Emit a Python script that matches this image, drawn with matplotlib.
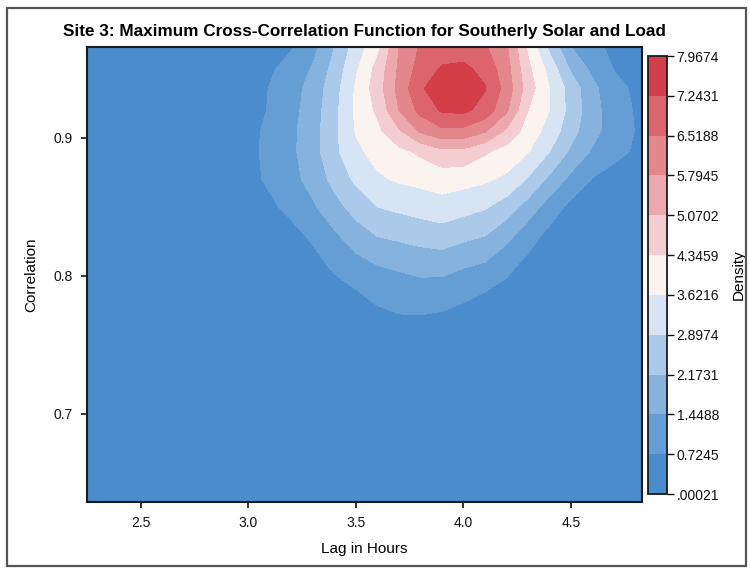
#!/usr/bin/env python3

import matplotlib
matplotlib.use('Agg')
import matplotlib.pyplot as plt
import matplotlib.patches as mpatches
import numpy as np

# density grid (rows = correlation, cols = lag)
lags = [2.25, 2.6, 2.9, 3.05, 3.2, 3.3, 3.4, 3.5, 3.6, 3.7, 3.8,
        3.9, 4.0, 4.1, 4.2, 4.3, 4.4, 4.5, 4.6, 4.7, 4.83]
corrs = [0.636, 0.70, 0.74, 0.77, 0.79, 0.81, 0.83, 0.85, 0.87,
         0.89, 0.905, 0.92, 0.936, 0.95, 0.966]

row_0636 = [0.01, 0.01, 0.02, 0.02, 0.03, 0.03, 0.04, 0.04, 0.05, 0.05, 0.05,
            0.05, 0.04, 0.04, 0.03, 0.03, 0.02, 0.02, 0.01, 0.01, 0.01]
row_0700 = [0.02, 0.04, 0.06, 0.07, 0.09, 0.11, 0.13, 0.15, 0.17, 0.18, 0.18,
            0.17, 0.15, 0.13, 0.11, 0.09, 0.07, 0.05, 0.04, 0.03, 0.02]
row_0740 = [0.04, 0.07, 0.11, 0.14, 0.18, 0.22, 0.27, 0.32, 0.37, 0.40, 0.40,
            0.37, 0.33, 0.28, 0.23, 0.18, 0.14, 0.11, 0.08, 0.06, 0.05]
row_0770 = [0.05, 0.09, 0.16, 0.21, 0.28, 0.34, 0.42, 0.52, 0.61, 0.68, 0.68,
            0.62, 0.55, 0.46, 0.37, 0.29, 0.22, 0.17, 0.13, 0.10, 0.07]
row_0790 = [0.06, 0.11, 0.20, 0.27, 0.36, 0.45, 0.57, 0.72, 0.88, 1.05, 1.17,
            1.12, 0.88, 0.75, 0.55, 0.40, 0.30, 0.22, 0.16, 0.12, 0.08]
row_0810 = [0.07, 0.13, 0.25, 0.33, 0.45, 0.58, 0.84, 1.25, 1.52, 1.65, 1.78,
            1.83, 1.61, 1.45, 0.96, 0.58, 0.40, 0.29, 0.21, 0.15, 0.10]
row_0830 = [0.08, 0.15, 0.30, 0.40, 0.57, 0.82, 1.35, 1.86, 2.22, 2.35, 2.48,
            2.58, 2.38, 2.21, 1.73, 1.04, 0.55, 0.38, 0.27, 0.19, 0.13]
row_0850 = [0.09, 0.18, 0.37, 0.50, 0.87, 1.35, 1.93, 2.44, 2.90, 3.05, 3.19,
            3.34, 3.16, 2.97, 2.54, 1.88, 1.09, 0.55, 0.38, 0.27, 0.19]
row_0870 = [0.10, 0.20, 0.42, 0.68, 1.22, 1.71, 2.39, 3.04, 3.52, 3.71, 3.82,
            3.95, 3.87, 3.73, 3.49, 2.82, 2.01, 1.25, 0.68, 0.45, 0.30]
row_0890 = [0.10, 0.21, 0.44, 0.72, 1.30, 1.88, 2.72, 3.48, 3.85, 4.15, 4.47,
            4.87, 4.86, 4.43, 4.04, 3.66, 2.90, 2.03, 1.36, 0.93, 0.55]
row_0905 = [0.10, 0.20, 0.42, 0.70, 1.29, 1.88, 2.72, 3.67, 4.16, 4.97, 5.89,
            6.36, 6.30, 5.87, 4.93, 4.01, 3.35, 2.44, 1.67, 1.11, 0.58]
row_0920 = [0.09, 0.19, 0.40, 0.58, 1.21, 1.81, 2.69, 3.75, 4.47, 5.79, 6.74,
            7.33, 7.41, 6.97, 5.91, 4.35, 3.62, 2.63, 1.72, 1.06, 0.55]
row_0936 = [0.09, 0.18, 0.38, 0.56, 1.14, 1.74, 2.59, 3.71, 4.71, 6.03, 7.14,
            7.71, 7.74, 7.29, 6.23, 4.71, 3.62, 2.59, 1.63, 0.96, 0.50]
row_0950 = [0.08, 0.16, 0.33, 0.50, 0.94, 1.53, 2.41, 3.52, 4.59, 5.91, 6.82,
            7.33, 7.41, 7.02, 6.08, 4.53, 3.38, 2.08, 1.27, 0.70, 0.42]
row_0966 = [0.08, 0.15, 0.30, 0.45, 0.68, 1.21, 2.17, 3.22, 4.14, 5.79, 6.60,
            6.85, 6.88, 6.60, 5.89, 4.20, 2.72, 1.45, 0.93, 0.55, 0.35]

levels = [0.00021, 0.7245, 1.4488, 2.1731, 2.8974, 3.6216, 4.3459,
          5.0702, 5.7945, 6.5188, 7.2431, 7.9674]
level_labels = ['.00021', '0.7245', '1.4488', '2.1731', '2.8974', '3.6216',
                '4.3459', '5.0702', '5.7945', '6.5188', '7.2431', '7.9674']

x_ticks = [2.5, 3.0, 3.5, 4.0, 4.5]
y_ticks = [0.7, 0.8, 0.9]

# blue -> white -> red ramp, one colour per band
band_colours = ['#4a8ccc', '#649ed5', '#86b3de', '#abcaea', '#d6e4f3',
                '#fbf4ee', '#f3cdcf', '#eca9ad', '#e4878d', '#dc646d',
                '#d33e49']


def main():
    plt.rcParams['font.family'] = ['Liberation Sans', 'DejaVu Sans']

    density = np.array([row_0636, row_0700, row_0740, row_0770, row_0790,
                        row_0810, row_0830, row_0850, row_0870, row_0890,
                        row_0905, row_0920, row_0936, row_0950, row_0966])

    fig = plt.figure(figsize=(7.5, 5.71), dpi=100)
    W, H = 750.0, 571.0

    ax = fig.add_axes([87 / W, 69 / H, 555 / W, 455 / H])
    cf = ax.contourf(lags, corrs, density, levels=levels, colors=band_colours)
    ax.set_xlim(2.25, 4.83)
    ax.set_ylim(0.636, 0.966)
    ax.set_xticks(x_ticks)
    ax.set_yticks(y_ticks)
    ax.set_xticklabels(['{:.1f}'.format(v) for v in x_ticks])
    ax.set_yticklabels(['{:.1f}'.format(v) for v in y_ticks])
    ax.tick_params(direction='out', length=4, width=1.2, colors='#111111',
                   labelsize=10, pad=6)
    for s in ax.spines.values():
        s.set_linewidth(1.5)
        s.set_color('#1a1a1a')

    ax.set_xlabel('Lag in Hours', fontsize=11, labelpad=9)
    ax.set_ylabel('Correlation', fontsize=11, labelpad=11)
    ax.set_title('Site 3: Maximum Cross-Correlation Function for Southerly Solar and Load',
                 fontsize=12.3, fontweight='bold', pad=8)

    cax = fig.add_axes([648 / W, 77 / H, 19 / W, 438 / H])
    cb = fig.colorbar(cf, cax=cax, ticks=levels)
    cb.set_ticklabels(level_labels)
    cb.outline.set_linewidth(1.3)
    cb.outline.set_edgecolor('#1a1a1a')
    cax.tick_params(direction='out', length=5, width=1.0, labelsize=10,
                    colors='#111111', pad=2)
    cb.set_label('Density', fontsize=11, labelpad=9)

    # scanned page frame
    frame = mpatches.Rectangle((7 / W, 5 / H), 739 / W, 558 / H,
                               transform=fig.transFigure, fill=False,
                               edgecolor='#555555', linewidth=1.6)
    fig.patches.append(frame)

    fig.savefig('out.png', dpi=100)


if __name__ == "__main__":
    main()
